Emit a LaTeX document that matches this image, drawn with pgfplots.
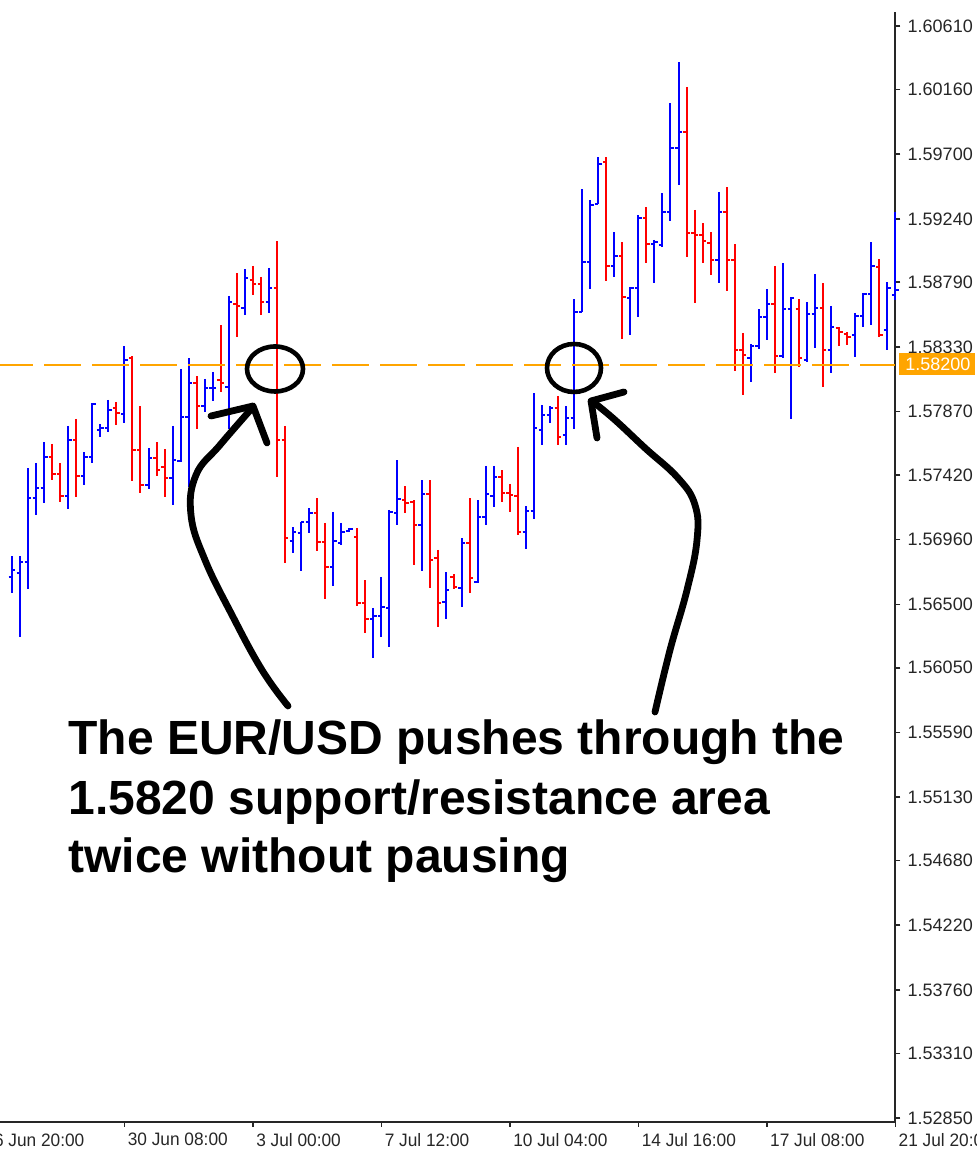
\documentclass[border=0pt]{standalone}
\usepackage{fontspec}
\setmainfont{Liberation Sans}
\newfontfamily\narrowfont[FakeStretch=0.96]{Liberation Sans}
\usepackage{pgfplots}
\pgfplotsset{compat=1.18}
\usepackage{pgfplotstable}
\definecolor{mtblue}{RGB}{0,0,255}
\definecolor{mtred}{RGB}{255,0,0}
\definecolor{mtorange}{RGB}{255,165,0}
\pgfdeclareplotmark{otick}{\pgfpathmoveto{\pgfqpoint{-1.7pt}{0pt}}\pgfpathlineto{\pgfqpoint{0pt}{0pt}}\pgfusepathqstroke}
\pgfdeclareplotmark{ctick}{\pgfpathmoveto{\pgfqpoint{0pt}{0pt}}\pgfpathlineto{\pgfqpoint{1.7pt}{0pt}}\pgfusepathqstroke}

% bar index, open, high, low, close  (rising bars)
\pgfplotstableread{
x o h l c
0 1.56695 1.56844 1.56581 1.56745
1 1.56723 1.56844 1.56268 1.56801
2 1.56801 1.57469 1.56610 1.57256
3 1.57256 1.57505 1.57135 1.57327
4 1.57327 1.57654 1.57221 1.57548
7 1.57270 1.57768 1.57178 1.57668
9 1.57412 1.57583 1.57349 1.57548
10 1.57548 1.57931 1.57505 1.57924
11 1.57739 1.57782 1.57690 1.57754
12 1.57754 1.57953 1.57725 1.57881
14 1.57853 1.58336 1.57789 1.58237
17 1.57349 1.57611 1.57320 1.57540
20 1.57398 1.57768 1.57206 1.57526
21 1.57519 1.58173 1.57512 1.57832
22 1.57832 1.58251 1.57334 1.58073
24 1.57910 1.58102 1.57867 1.58038
25 1.58038 1.58152 1.57945 1.58038
27 1.58045 1.58692 1.57746 1.58649
29 1.58606 1.58883 1.58557 1.58819
32 1.58649 1.58891 1.58571 1.58748
35 1.56951 1.57050 1.56865 1.57015
36 1.57007 1.57086 1.56737 1.57086
37 1.57086 1.57185 1.57007 1.57150
40 1.56766 1.57157 1.56631 1.56951
41 1.56936 1.57079 1.56922 1.57015
42 1.57022 1.57043 1.57015 1.57036
45 1.56396 1.56475 1.56119 1.56418
46 1.56418 1.56695 1.56268 1.56482
47 1.56475 1.57171 1.56197 1.57157
48 1.57150 1.57526 1.57064 1.57249
51 1.57064 1.57384 1.56737 1.57285
54 1.56517 1.56730 1.56396 1.56602
56 1.56617 1.56972 1.56482 1.56936
58 1.56659 1.57242 1.56652 1.57121
59 1.57121 1.57484 1.57064 1.57285
60 1.57270 1.57484 1.57192 1.57405
64 1.57015 1.57199 1.56894 1.57164
65 1.57164 1.58002 1.57107 1.57754
66 1.57739 1.57917 1.57633 1.57846
67 1.57846 1.57910 1.57789 1.57896
69 1.57704 1.57910 1.57633 1.57825
70 1.57825 1.58670 1.57746 1.58578
71 1.58578 1.59452 1.58578 1.58933
72 1.58933 1.59374 1.58741 1.59338
73 1.59345 1.59679 1.59345 1.59630
75 1.58905 1.59146 1.58827 1.58976
77 1.58677 1.58756 1.58414 1.58748
78 1.58748 1.59267 1.58542 1.59246
80 1.59061 1.59090 1.58784 1.59075
81 1.59054 1.59423 1.59040 1.59288
82 1.59288 1.60063 1.59225 1.59743
83 1.59743 1.60354 1.59480 1.59857
88 1.58947 1.59431 1.58784 1.59288
92 1.58251 1.58350 1.58080 1.58336
93 1.58336 1.58599 1.58315 1.58542
94 1.58542 1.58741 1.58379 1.58635
96 1.58265 1.58926 1.58251 1.58599
97 1.58599 1.58684 1.57818 1.58677
99 1.58237 1.58649 1.58223 1.58564
100 1.58564 1.58848 1.58322 1.58606
102 1.58308 1.58621 1.58144 1.58471
105 1.58414 1.58571 1.58258 1.58549
106 1.58549 1.58713 1.58471 1.58706
107 1.58706 1.59075 1.58485 1.58905
109 1.58450 1.58791 1.58308 1.58748
110 1.58699 1.59288 1.58663 1.58734
}\upbars

% falling bars
\pgfplotstableread{
x o h l c
5 1.57548 1.57640 1.57384 1.57427
6 1.57427 1.57505 1.57228 1.57270
8 1.57668 1.57818 1.57263 1.57412
13 1.57896 1.57938 1.57775 1.57860
15 1.58251 1.58265 1.57377 1.57597
16 1.57597 1.57910 1.57292 1.57349
18 1.57540 1.57654 1.57412 1.57455
19 1.57476 1.57604 1.57263 1.57398
23 1.58073 1.58123 1.57746 1.57910
26 1.58095 1.58485 1.58009 1.58073
28 1.58635 1.58855 1.58400 1.58621
30 1.58805 1.58905 1.58699 1.58777
31 1.58777 1.58827 1.58557 1.58649
33 1.58748 1.59082 1.57405 1.57668
34 1.57668 1.57768 1.56794 1.56972
38 1.57150 1.57256 1.56880 1.56943
39 1.56943 1.57079 1.56538 1.56766
43 1.56979 1.57043 1.56489 1.56510
44 1.56510 1.56673 1.56297 1.56396
49 1.57242 1.57341 1.57150 1.57221
50 1.57228 1.57242 1.56780 1.57064
52 1.57285 1.57384 1.56617 1.56816
53 1.56830 1.56887 1.56339 1.56510
55 1.56695 1.56716 1.56610 1.56624
57 1.56936 1.57256 1.56581 1.56688
61 1.57405 1.57455 1.57228 1.57292
62 1.57292 1.57356 1.57157 1.57277
63 1.57270 1.57619 1.56993 1.57015
68 1.57896 1.57981 1.57633 1.57690
74 1.59644 1.59679 1.58798 1.58905
76 1.58976 1.59075 1.58386 1.58684
79 1.59246 1.59324 1.58926 1.59061
84 1.59857 1.60177 1.58969 1.59139
85 1.59139 1.59303 1.58642 1.59125
86 1.59125 1.59210 1.58926 1.59082
87 1.59068 1.59146 1.58841 1.58947
89 1.59288 1.59466 1.58727 1.58947
90 1.58947 1.59061 1.58159 1.58308
91 1.58308 1.58429 1.57988 1.58272
95 1.58635 1.58905 1.58144 1.58265
98 1.58599 1.58670 1.58187 1.58251
101 1.58606 1.58784 1.58045 1.58308
103 1.58464 1.58471 1.58336 1.58436
104 1.58422 1.58436 1.58343 1.58400
108 1.58898 1.58954 1.58400 1.58414
}\downbars

\begin{document}
\begin{tikzpicture}
\useasboundingbox (0,-13.5pt) rectangle (488.5pt,561pt);
\begin{axis}[
  at={(0,0)}, anchor=south west,
  scale only axis, width=447.65pt, height=555pt,
  xmin=-1.494, xmax=110,
  ymin=1.52822, ymax=1.60710,
  axis x line=bottom, axis y line=right,
  axis line style={-, line width=1pt, black!85},
  tick align=outside, major tick length=2.5pt,
  tick style={line width=0.8pt, black!85},
  clip=false,
  ytick={1.52850,1.53310,1.53760,1.54220,1.54680,1.55130,1.55590,1.56050,1.56500,1.56960,1.57420,1.57870,1.58330,1.58790,1.59240,1.59700,1.60160,1.60610},
  yticklabels={1.52850,1.53310,1.53760,1.54220,1.54680,1.55130,1.55590,1.56050,1.56500,1.56960,1.57420,1.57870,1.58330,1.58790,1.59240,1.59700,1.60160,1.60610},
  yticklabel style={anchor=west, inner sep=0pt, xshift=3.5pt, font=\fontsize{9}{9}\selectfont, text=black!85},
  xtick={14,30,46,62,78,94,110},
  xticklabels={30 Jun 08:00,3 Jul 00:00,7 Jul 12:00,10 Jul 04:00,14 Jul 16:00,17 Jul 08:00,21 Jul 20:00},
  xticklabel style={anchor=north west, inner sep=0pt, xshift=1.5pt, yshift=-3pt, font=\narrowfont\fontsize{9}{9}\selectfont, text=black!85},
]
% high-low lines
\addplot[draw=none, mark=none, forget plot,
  error bars/.cd, y dir=minus, y explicit, error mark=none,
  error bar style={draw=mtblue, line width=1pt, solid}]
  table[x=x, y=h, y error expr=\thisrow{h}-\thisrow{l}] {\upbars};
\addplot[only marks, mark=otick, mark options={draw=mtblue, line width=0.9pt}, forget plot] table[x=x, y=o] {\upbars};
\addplot[only marks, mark=ctick, mark options={draw=mtblue, line width=0.9pt}, forget plot] table[x=x, y=c] {\upbars};
\addplot[draw=none, mark=none, forget plot,
  error bars/.cd, y dir=minus, y explicit, error mark=none,
  error bar style={draw=mtred, line width=1pt, solid}]
  table[x=x, y=h, y error expr=\thisrow{h}-\thisrow{l}] {\downbars};
\addplot[only marks, mark=otick, mark options={draw=mtred, line width=0.9pt}, forget plot] table[x=x, y=o] {\downbars};
\addplot[only marks, mark=ctick, mark options={draw=mtred, line width=0.9pt}, forget plot] table[x=x, y=c] {\downbars};
% support/resistance line
\addplot[mtorange, line width=1pt, dash pattern=on 18.5pt off 5.5pt, dash phase=2pt, forget plot]
  coordinates {(-1.494,1.58200) (110,1.58200)};
\end{axis}
% annotations in image pixel coordinates
\begin{scope}[x=0.5pt, y=-0.5pt, shift={(0,561pt)}]
  % price label of the line
  \fill[mtorange] (899,353) rectangle (975,375);
  \node[anchor=west, inner sep=0pt, text=white, font=\fontsize{9}{9}\selectfont] at (905,364.5) {1.58200};
  % first, cut-off date label
  \node[anchor=north west, inner sep=0pt, text=black!85, font=\narrowfont\fontsize{9}{9}\selectfont] at (-16,1134) {26 Jun 20:00};
  % circles
  \draw[line width=2.3pt] (275,369) ellipse [x radius=28, y radius=22.5];
  \draw[line width=2.3pt] (574,368) ellipse [x radius=27, y radius=24];
  % left arrow
  \draw[line width=3.4pt, line cap=round, line join=round] plot[smooth, tension=0.7] coordinates {(288,706) (262,670) (232,615) (205,560) (191,515) (196,475) (220,445) (253,407)};
  \draw[line width=3.4pt, line cap=round, line join=round] (211,416) -- (253,406) -- (267,443);
  % right arrow
  \draw[line width=3.4pt, line cap=round, line join=round] plot[smooth, tension=0.7] coordinates {(655,712) (670,650) (687,590) (697,540) (695,505) (678,478) (645,448) (615,420) (592,401)};
  \draw[line width=3.4pt, line cap=round, line join=round] (624,392) -- (591,401) -- (597,438);
  % text
  \begin{scope}[every node/.style={anchor=base west, inner sep=0pt, font=\fontsize{24}{24}\bfseries\selectfont}]
    \node at (68,755) {The EUR/USD pushes through the};
    \node at (68,815) {1.5820 support/resistance area};
    \node at (68,873) {twice without pausing};
  \end{scope}
\end{scope}
\end{tikzpicture}
\end{document}
